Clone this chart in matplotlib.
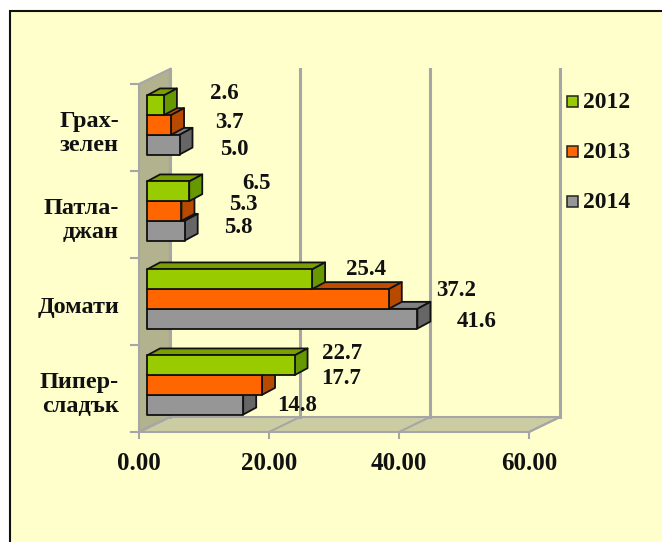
import matplotlib
matplotlib.use("Agg")
import matplotlib.pyplot as plt
from matplotlib.patches import Polygon, Rectangle

plt.rcParams['font.family'] = ['Liberation Serif', 'DejaVu Serif']
plt.rcParams['font.weight'] = 'bold'

categories = ["Пипер-\nсладък", "Домати", "Патла-\nджан", "Грах-\nзелен"]
years = ["2014", "2013", "2012"]
values = {
    "2012": [22.7, 25.4, 6.5, 2.6],
    "2013": [17.7, 37.2, 5.3, 3.7],
    "2014": [14.8, 41.6, 5.8, 5.0],
}
x_ticks = [0, 20, 40, 60]

W, H = 662, 542
fig = plt.figure(figsize=(W / 100, H / 100), dpi=100, facecolor="white")
bg = fig.add_axes([0, 0, 1, 1]); bg.set_xlim(0, W); bg.set_ylim(H, 0); bg.axis("off")
bg.add_patch(Rectangle((10, 11), 700, 600, fc="#FFFFCC", ec="#111111", lw=1.5))

# front plane of the plot: x 139..529 px, y 432..82 px
L, R, B, T = 139, 529, 432, 84
ax = fig.add_axes([L / W, 1 - B / H, (R - L) / W, (B - T) / H])
ax.set_xlim(0, 60); ax.set_ylim(0, 4); ax.axis("off"); ax.patch.set_alpha(0)
ux, uy = 60 / (R - L), 4 / (B - T)     # data units per pixel
DX, DY = 31 * ux, 15 * uy               # wall depth
GRID = "#A6A6A6"
# walls
ax.add_patch(Polygon([(0, 0), (DX, DY), (DX, 4 + DY), (0, 4)], fc="#B2B28E", ec=GRID, lw=1.5, clip_on=False, zorder=1))
ax.add_patch(Polygon([(0, 0), (60, 0), (60 + DX, DY), (DX, DY)], fc="#CCCCA3", ec=GRID, lw=1.5, clip_on=False, zorder=1))
for t in x_ticks:
    ax.plot([t + DX, t + DX], [DY, 4 + DY], color=GRID, lw=2.2, clip_on=False, zorder=1.5)
    ax.plot([t, t + DX], [0, DY], color=GRID, lw=1.5, clip_on=False, zorder=1.5)
    ax.plot([t, t], [0, -6 * uy], color=GRID, lw=1.5, clip_on=False, zorder=1.5)
    ax.text(t, -31 * uy, f"{t:.2f}", ha="center", va="center", fontsize=18, color="#111111")
for c in range(5):
    ax.plot([-8 * ux, 0], [c, c], color=GRID, lw=1.5, clip_on=False, zorder=1.5)
for i, lab in enumerate(categories):
    ax.text(-20 * ux, i + 0.49 - 5 * uy, lab, ha="right", va="center", fontsize=17.5, color="#111111", linespacing=1.22)

# bars
COL = {"2012": ("#99CC00", "#7A9F00", "#669900"),
       "2013": ("#FF6600", "#C04C00", "#B84A00"),
       "2014": ("#969696", "#808080", "#666666")}
X0 = 8 * ux
BH = 19.7 * uy
dx, dy = 13 * ux, 7 * uy
cy = [385, 299, 211, 125]
label_off = {"2012": [48, 54, 67, 60], "2013": [79, 67, 62, 58], "2014": [54, 59, 54, 55]}
label_dy = {"2012": [-12, -10, -8, -12], "2013": [-7, -8, -6, -2], "2014": [1, 3, -3, 5]}
for i in range(4):
    base = (B - cy[i]) * uy
    for k, y in enumerate(years):
        v = values[y][i]
        y0 = base + (k - 1.5) * BH
        front, top, side = COL[y]
        x1 = X0 + v
        kw = dict(ec="#111111", lw=1.3, clip_on=False, zorder=3 + k, joinstyle="round")
        ax.add_patch(Polygon([(X0, y0 + BH), (X0 + dx, y0 + BH + dy), (x1 + dx, y0 + BH + dy), (x1, y0 + BH)], fc=top, **kw))
        ax.add_patch(Polygon([(x1, y0), (x1 + dx, y0 + dy), (x1 + dx, y0 + BH + dy), (x1, y0 + BH)], fc=side, **kw))
        ax.add_patch(Rectangle((X0, y0), v, BH, fc=front, **kw))
        ax.text(x1 + label_off[y][i] * ux, y0 + BH / 2 - label_dy[y][i] * uy, f"{v:.1f}",
                ha="center", va="center", fontsize=16.5, color="#111111", zorder=10, clip_on=False)

# legend
for y, py in zip(["2012", "2013", "2014"], [101, 151, 201]):
    bg.add_patch(Rectangle((566.5, py - 5.5), 11, 11, fc=COL[y][0], ec="#222222", lw=1.1))
    bg.text(583, py + 1, y, ha="left", va="center", fontsize=17, color="#111111")

fig.savefig("out.png", dpi=100, facecolor="white")
